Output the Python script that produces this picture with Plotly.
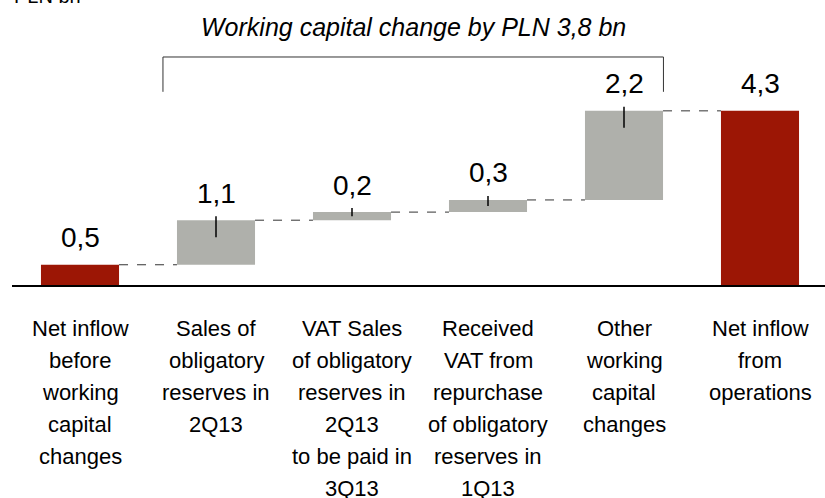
import plotly.graph_objects as go

# PLN bn
steps = ["start", "d1", "d2", "d3", "d4", "total"]
values = [0.5, 1.1, 0.2, 0.3, 2.2, 4.3]
value_labels = ["0,5", "1,1", "0,2", "0,3", "2,2", "4,3"]
is_total = [True, False, False, False, False, True]
category_lines = [
    ["Net inflow", "before", "working", "capital", "changes"],
    ["Sales of", "obligatory", "reserves in", "2Q13"],
    ["VAT Sales", "of obligatory", "reserves in", "2Q13", "to be paid in", "3Q13"],
    ["Received", "VAT from", "repurchase", "of obligatory", "reserves in", "1Q13"],
    ["Other", "working", "capital", "changes"],
    ["Net inflow", "from", "operations"],
]
title_text = "Working capital change by PLN 3,8 bn"
unit_text = "PLN bn"

RED = "#9c1605"
GREY = "#afb0ab"
FONT = "Liberation Sans, Arial, sans-serif"

# waterfall bases
bases, tops = [], []
level = 0
for v, tot in zip(values, is_total):
    if tot:
        bases.append(0)
        level = v
    else:
        bases.append(level)
        level += v
    tops.append(bases[-1] + v)

xs = list(range(len(steps)))
colors = [RED if t else GREY for t in is_total]
half_w = 0.287

fig = go.Figure(go.Bar(x=xs, y=values, base=bases, width=2 * half_w,
                       marker=dict(color=colors, line=dict(width=0)),
                       hoverinfo="skip"))

shapes = []
# dashed connectors
for i in range(len(xs) - 1):
    shapes.append(dict(type="line", xref="x", yref="y",
                       x0=i + half_w, x1=i + 1 - half_w, y0=tops[i], y1=tops[i],
                       line=dict(color="#333333", width=1, dash="dash")))
# small marks at the top of delta bars
px_per_unit = 40.5
for i, tot in enumerate(is_total):
    if tot:
        continue
    down = min(17, values[i] * px_per_unit / 2)
    shapes.append(dict(type="line", xref="x", yref="y", ysizemode="pixel",
                       yanchor=tops[i], x0=i, x1=i, y0=4, y1=-down,
                       line=dict(color="black", width=1.5)))
# bracket
bx0, bx1 = 0.61, 4.29
by_top, by_bot = 5.63, 4.77
shapes += [
    dict(type="line", xref="x", yref="y", x0=bx0, x1=bx1, y0=by_top, y1=by_top,
         line=dict(color="#333333", width=1)),
    dict(type="line", xref="x", yref="y", x0=bx0, x1=bx0, y0=by_top, y1=by_bot,
         line=dict(color="#333333", width=1)),
    dict(type="line", xref="x", yref="y", x0=bx1, x1=bx1, y0=by_top, y1=by_bot,
         line=dict(color="#333333", width=1)),
]

annotations = []
for i in xs:
    annotations.append(dict(x=i, y=tops[i], xref="x", yref="y", text=value_labels[i],
                            showarrow=False, yanchor="middle", yshift=27,
                            font=dict(size=28, color="black", family=FONT)))
    for j, line in enumerate(category_lines[i]):
        annotations.append(dict(x=i, y=0, xref="x", yref="y", text=line,
                                showarrow=False, yanchor="middle", yshift=-43 - 32 * j,
                                font=dict(size=22, color="black", family=FONT)))
annotations.append(dict(x=(bx0 + bx1) / 2, y=1, xref="x", yref="paper",
                        text="<i>" + title_text + "</i>",
                        showarrow=False, yanchor="middle", yshift=3,
                        font=dict(size=25, color="black", family=FONT)))
annotations.append(dict(x=0, y=1, xref="paper", yref="paper", text=unit_text,
                        showarrow=False, xanchor="left", yanchor="bottom",
                        xshift=0, yshift=21,
                        font=dict(size=20, color="black", family=FONT)))

fig.update_layout(
    width=825, height=498,
    margin=dict(l=12, r=0, t=30, b=213),
    paper_bgcolor="white", plot_bgcolor="white",
    showlegend=False,
    shapes=shapes, annotations=annotations,
    xaxis=dict(range=[-0.5, -0.5 + 813 / 136], showgrid=False, zeroline=False,
               showticklabels=False, showline=True, linecolor="black", linewidth=2,
               fixedrange=True),
    yaxis=dict(range=[0, 255 / px_per_unit], visible=False, fixedrange=True),
)

fig.write_html("out.html", config={"displayModeBar": False},
               post_script="document.body.style.margin = '0';")
